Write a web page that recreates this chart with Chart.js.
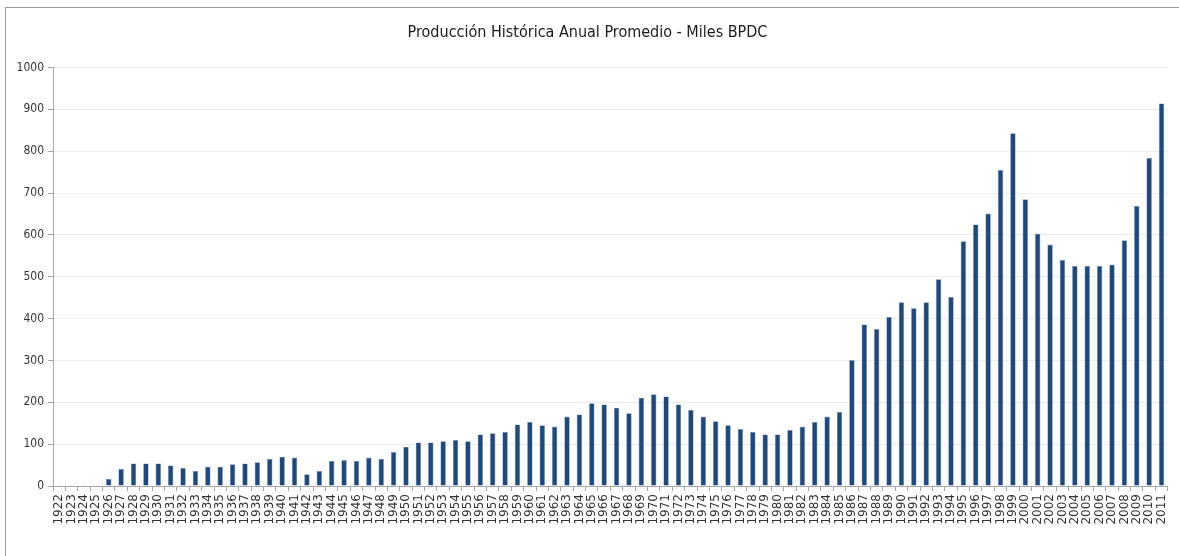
<!DOCTYPE html>
<html>
<head>
<meta charset="utf-8">
<script src="https://cdn.jsdelivr.net/npm/chart.js@4/dist/chart.umd.min.js"></script>
<style>
  html, body { margin: 0; padding: 0; background: #ffffff; }
  #wrap { position: relative; width: 1179px; height: 556px; overflow: hidden; }
  #frame { position: absolute; left: 5px; top: 7px; width: 1300px; height: 700px;
           border-left: 1px solid #9a9a9a; border-top: 1px solid #9a9a9a; pointer-events: none; }
  canvas { position: absolute; left: 0; top: 0; }
</style>
</head>
<body>
<div id="wrap">
  <div id="frame"></div>
  <canvas id="c" width="1179" height="556"></canvas>
</div>
<script>
const chartTitle = "Producción Histórica Anual Promedio - Miles BPDC";

const years = [
  "1922","1923","1924","1925","1926","1927","1928","1929","1930","1931",
  "1932","1933","1934","1935","1936","1937","1938","1939","1940","1941",
  "1942","1943","1944","1945","1946","1947","1948","1949","1950","1951",
  "1952","1953","1954","1955","1956","1957","1958","1959","1960","1961",
  "1962","1963","1964","1965","1966","1967","1968","1969","1970","1971",
  "1972","1973","1974","1975","1976","1977","1978","1979","1980","1981",
  "1982","1983","1984","1985","1986","1987","1988","1989","1990","1991",
  "1992","1993","1994","1995","1996","1997","1998","1999","2000","2001",
  "2002","2003","2004","2005","2006","2007","2008","2009","2010","2011"
];

const production = [
  0.5, 0.5, 0.5, 0.5, 17, 41, 54, 54, 54, 49,
  43, 36, 46, 46, 52, 54, 57, 65, 70, 68,
  28, 36, 60, 62, 60, 68, 65, 81, 94, 104,
  104, 107, 110, 107, 123, 126, 129, 147, 153, 145,
  142, 166, 171, 198, 195, 187, 174, 211, 219, 214,
  195, 182, 166, 155, 145, 136, 129, 123, 123, 134,
  142, 153, 166, 177, 301, 386, 375, 404, 439, 425,
  439, 494, 452, 585, 625, 651, 755, 843, 685, 603,
  577, 540, 526, 526, 526, 529, 587, 669, 784, 914
];

const yTicks = [0, 100, 200, 300, 400, 500, 600, 700, 800, 900, 1000];

const NARROW = "'DejaVu Sans Condensed', 'Liberation Sans Narrow', sans-serif";
const WIDE = "'DejaVu Sans', sans-serif";

new Chart(document.getElementById('c'), {
  type: 'bar',
  data: {
    labels: years,
    datasets: [{
      data: production,
      backgroundColor: '#1f497d',
      borderColor: '#7b93b6',
      borderWidth: 0.6,
      barPercentage: 0.44,
      categoryPercentage: 1.0
    }]
  },
  options: {
    responsive: false,
    animation: false,
    devicePixelRatio: 1,
    layout: { padding: { left: 6, right: 10, top: 0, bottom: 0 } },
    plugins: {
      legend: { display: false },
      tooltip: { enabled: false },
      title: {
        display: true,
        text: chartTitle,
        color: '#1a1a1a',
        font: { family: NARROW, size: 16, weight: 'normal', lineHeight: 1.2 },
        padding: { top: 23.5, bottom: 24.8 }
      }
    },
    scales: {
      x: {
        grid: { display: true, drawOnChartArea: false, drawTicks: true, tickLength: 5, color: '#a6a6a6', offset: true },
        border: { display: true, color: '#a6a6a6', width: 1 },
        ticks: {
          autoSkip: false, maxRotation: 90, minRotation: 90, padding: 3,
          color: '#333333', font: { family: WIDE, size: 12 }
        },
        afterFit: (s) => { s.height = 70; }
      },
      y: {
        min: 0, max: 1000,
        afterBuildTicks: (s) => { s.ticks = yTicks.map(v => ({ value: v })); },
        grid: { color: '#ececec', tickLength: 5, drawTicks: true,
                tickColor: '#a6a6a6' },
        border: { display: true, color: '#a6a6a6', width: 1 },
        ticks: { padding: 4, color: '#333333', font: { family: NARROW, size: 12 },
                 callback: (v) => String(v) },
        afterFit: (s) => { s.width = 47; }
      }
    }
  }
});
</script>
</body>
</html>
